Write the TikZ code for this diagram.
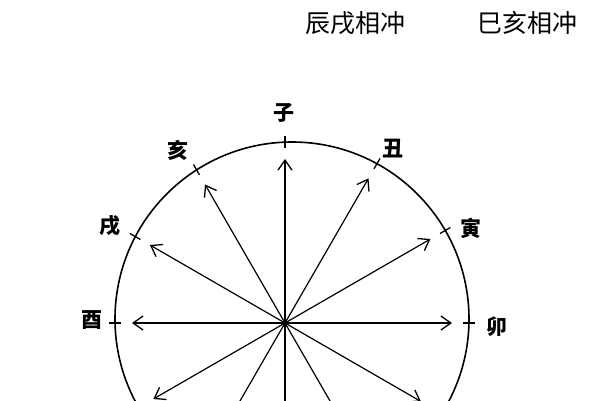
\documentclass[tikz,border=0pt]{standalone}
\usepackage{fontspec}
\newfontfamily\cjk{Noto Sans CJK SC}
\usetikzlibrary{arrows.meta}
\begin{document}
\begin{tikzpicture}[x=1pt,y=-1pt,
  ray/.style={line width=1.2pt,-{Straight Barb[length=10pt,width=14pt,line width=1.3pt]}},
  tickmark/.style={line width=1.3pt},
  rim/.style={line width=1.6pt},
  lab/.style={font=\cjk\bfseries\fontsize{21}{21}\selectfont,inner sep=0pt},
  title/.style={font=\cjk\fontsize{25}{25}\selectfont,inner sep=0pt}]
\useasboundingbox (0,0) rectangle (600,400);
\fill[white] (0,0) rectangle (600,400);
\clip (0,0) rectangle (600,400);
\node[title] (t1) at (355,23) {辰戌相冲};
\node[title] (t2) at (527,23) {巳亥相冲};
\coordinate (C) at (292,319);
\draw[rim] (C) circle [radius=177pt];
\coordinate (O) at (285,323);
\fill (O) circle [radius=2.2pt];
\foreach \a/\t/\r in {90/181/164,60/184/167,30/185/168,0/184/167,-30/181/157,-60/177/156,-90/173/156,-120/170/153,-150/169/152,180/170/153,150/173/156,120/177/160}{
  \draw[ray] (O) -- ([shift={(-\a:\r)}]O);
  \pgfmathsetmacro{\ta}{\t-6}
  \pgfmathsetmacro{\tb}{\t+6}
  \draw[tickmark] ([shift={(-\a:\ta)}]O) -- ([shift={(-\a:\tb)}]O);
}
\node[lab] (zi) at (284,113) {子};
\node[lab] (chou) at (393,149) {丑};
\node[lab] (yin) at (471,228) {寅};
\node[lab] (mao) at (497,327) {卯};
\node[lab] (you) at (92,320) {酉};
\node[lab] (xu) at (110,226) {戌};
\node[lab] (hai) at (178,150) {亥};
\end{tikzpicture}
\end{document}
